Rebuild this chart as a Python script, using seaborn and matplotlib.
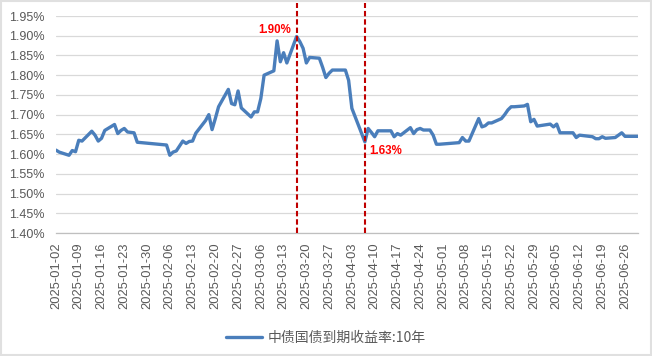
import matplotlib
matplotlib.use("Agg")
import matplotlib.pyplot as plt
import matplotlib.dates as mdates
from matplotlib.ticker import FixedLocator, FuncFormatter
from matplotlib.patches import Rectangle
import seaborn as sns
import pandas as pd

# ---- data ----
dates = [
    "2025-01-02", "2025-01-03", "2025-01-06", "2025-01-07", "2025-01-08", "2025-01-09", "2025-01-10",
    "2025-01-13", "2025-01-14", "2025-01-15", "2025-01-16", "2025-01-17",
    "2025-01-20", "2025-01-21", "2025-01-22", "2025-01-23", "2025-01-24", "2025-01-26", "2025-01-27",
    "2025-02-05", "2025-02-06", "2025-02-07", "2025-02-08",
    "2025-02-10", "2025-02-11", "2025-02-12", "2025-02-13", "2025-02-14",
    "2025-02-17", "2025-02-18", "2025-02-19", "2025-02-20", "2025-02-21",
    "2025-02-24", "2025-02-25", "2025-02-26", "2025-02-27", "2025-02-28",
    "2025-03-03", "2025-03-04", "2025-03-05", "2025-03-06", "2025-03-07",
    "2025-03-10", "2025-03-11", "2025-03-12", "2025-03-13", "2025-03-14",
    "2025-03-17", "2025-03-18", "2025-03-19", "2025-03-20", "2025-03-21",
    "2025-03-24", "2025-03-25", "2025-03-26", "2025-03-27", "2025-03-28",
    "2025-03-31", "2025-04-01", "2025-04-02", "2025-04-03",
    "2025-04-07", "2025-04-08", "2025-04-09", "2025-04-10", "2025-04-11",
    "2025-04-14", "2025-04-15", "2025-04-16", "2025-04-17", "2025-04-18",
    "2025-04-21", "2025-04-22", "2025-04-23", "2025-04-24", "2025-04-25",
    "2025-04-27", "2025-04-28", "2025-04-29", "2025-04-30",
    "2025-05-06", "2025-05-07", "2025-05-08", "2025-05-09",
    "2025-05-12", "2025-05-13", "2025-05-14", "2025-05-15", "2025-05-16",
    "2025-05-19", "2025-05-20", "2025-05-21", "2025-05-22", "2025-05-23",
    "2025-05-26", "2025-05-27", "2025-05-28", "2025-05-29", "2025-05-30",
    "2025-06-03", "2025-06-04", "2025-06-05", "2025-06-06",
    "2025-06-09", "2025-06-10", "2025-06-11", "2025-06-12", "2025-06-13",
    "2025-06-16", "2025-06-17", "2025-06-18", "2025-06-19", "2025-06-20",
    "2025-06-23", "2025-06-24", "2025-06-25", "2025-06-26", "2025-06-27",
    "2025-06-30",
]
yield_10y = [
    1.610, 1.605, 1.597, 1.609, 1.606, 1.635, 1.633,
    1.658, 1.648, 1.633, 1.640, 1.660,
    1.675, 1.652, 1.660, 1.665, 1.656, 1.654, 1.630,
    1.623, 1.597, 1.605, 1.608,
    1.633, 1.627, 1.632, 1.633, 1.653,
    1.685, 1.700, 1.662, 1.690, 1.720,
    1.764, 1.728, 1.725, 1.760, 1.717,
    1.694, 1.707, 1.707, 1.741, 1.800,
    1.811, 1.887, 1.834, 1.857, 1.831,
    1.898, 1.885, 1.868, 1.831, 1.845,
    1.843, 1.820, 1.794, 1.805, 1.813,
    1.813, 1.813, 1.787, 1.716,
    1.631, 1.665, 1.655, 1.644, 1.659,
    1.659, 1.659, 1.644, 1.652, 1.648,
    1.667, 1.652, 1.662, 1.665, 1.661,
    1.661, 1.648, 1.625, 1.625,
    1.629, 1.642, 1.633, 1.633,
    1.690, 1.669, 1.672, 1.679, 1.679,
    1.690, 1.700, 1.712, 1.720, 1.720,
    1.722, 1.726, 1.682, 1.688, 1.671,
    1.676, 1.669, 1.676, 1.654,
    1.654, 1.654, 1.642, 1.648, 1.647,
    1.644, 1.639, 1.639, 1.644, 1.640,
    1.642, 1.648, 1.654, 1.645, 1.645,
    1.645,
]
series_name = "中债国债到期收益率:10年"
peak_date = "2025-03-17"
low_date = "2025-04-07"
y_ticks = [1.40, 1.45, 1.50, 1.55, 1.60, 1.65, 1.70, 1.75, 1.80, 1.85, 1.90, 1.95]
x_ticks = pd.date_range("2025-01-02", "2025-06-26", freq="7D")
x_range = ["2025-01-02", "2025-06-30"]

df = pd.DataFrame({"date": pd.to_datetime(dates), series_name: yield_10y})

# ---- style ----
sns.set_theme(style="white")
plt.rcParams["font.family"] = ["Liberation Sans", "Noto Sans CJK SC", "DejaVu Sans"]

fig = plt.figure(figsize=(6.52, 3.56), dpi=100)
ax = fig.add_axes([56 / 652, 1 - 233 / 356, (638 - 56) / 652, (233 - 16) / 356])

line_color = "#4A7EBB"
sns.lineplot(data=df, x="date", y=series_name, ax=ax, color=line_color,
             linewidth=2.4, label=series_name, zorder=3)

ax.set_xlim(pd.Timestamp(x_range[0]), pd.Timestamp(x_range[1]))
ax.set_ylim(y_ticks[0], y_ticks[-1])
ax.yaxis.set_major_locator(FixedLocator(y_ticks))
ax.yaxis.set_major_formatter(FuncFormatter(lambda v, p: f"{v:.2f}%"))
ax.xaxis.set_major_locator(FixedLocator(mdates.date2num(x_ticks)))
ax.xaxis.set_major_formatter(mdates.DateFormatter("%Y-%m-%d"))

ax.grid(axis="y", color="#D9D9D9", linewidth=0.9)
ax.grid(axis="x", visible=False)
for s in ["top", "right", "left"]:
    ax.spines[s].set_visible(False)
ax.spines["bottom"].set_color("#BFBFBF")
ax.spines["bottom"].set_linewidth(0.9)

ax.tick_params(axis="x", which="major", direction="out", length=4, width=0.8,
               color="#BFBFBF", labelsize=9.3, labelcolor="#595959", rotation=90, pad=3)
ax.tick_params(axis="y", which="major", length=0, labelsize=9, labelcolor="#595959", pad=8)
ax.set_xlabel("")
ax.set_ylabel("")

# ---- annotations: dashed markers ----
ser = df.set_index("date")[series_name]
mark_color = "#C00000"
for d in [peak_date, low_date]:
    ax.axvline(pd.Timestamp(d), ymin=0, ymax=1.06, color=mark_color, linewidth=1.5,
               dashes=(2.6, 1.4), clip_on=False, zorder=4)

pv = ser[pd.Timestamp(peak_date)]
lv = ser[pd.Timestamp(low_date)]
ax.annotate(f"{pv:.2f}%", xy=(pd.Timestamp(peak_date), 1.9145), xytext=(-4, 0),
            textcoords="offset points", ha="right", va="center", color="#FF0000",
            fontsize=8.3, fontweight="bold")
ax.annotate(f"{lv:.2f}%", xy=(pd.Timestamp(low_date), 1.607), xytext=(3, 0),
            textcoords="offset points", ha="left", va="center", color="#FF0000",
            fontsize=8.3, fontweight="bold")

# ---- legend ----
leg = ax.legend(loc="center", bbox_to_anchor=(0.5, 1 - 338 / 356), bbox_transform=fig.transFigure,
                frameon=False, handlelength=2.6, handletextpad=0.4,
                prop={"family": ["Noto Sans CJK SC", "DejaVu Sans"], "size": 10})
for t in leg.get_texts():
    t.set_color("#595959")

# light figure border
fig.patches.append(Rectangle((0.001, 0.002), 0.997, 0.995, transform=fig.transFigure,
                             fill=False, edgecolor="#E0E0E0", linewidth=1.5))

fig.savefig("out.png", dpi=100)
